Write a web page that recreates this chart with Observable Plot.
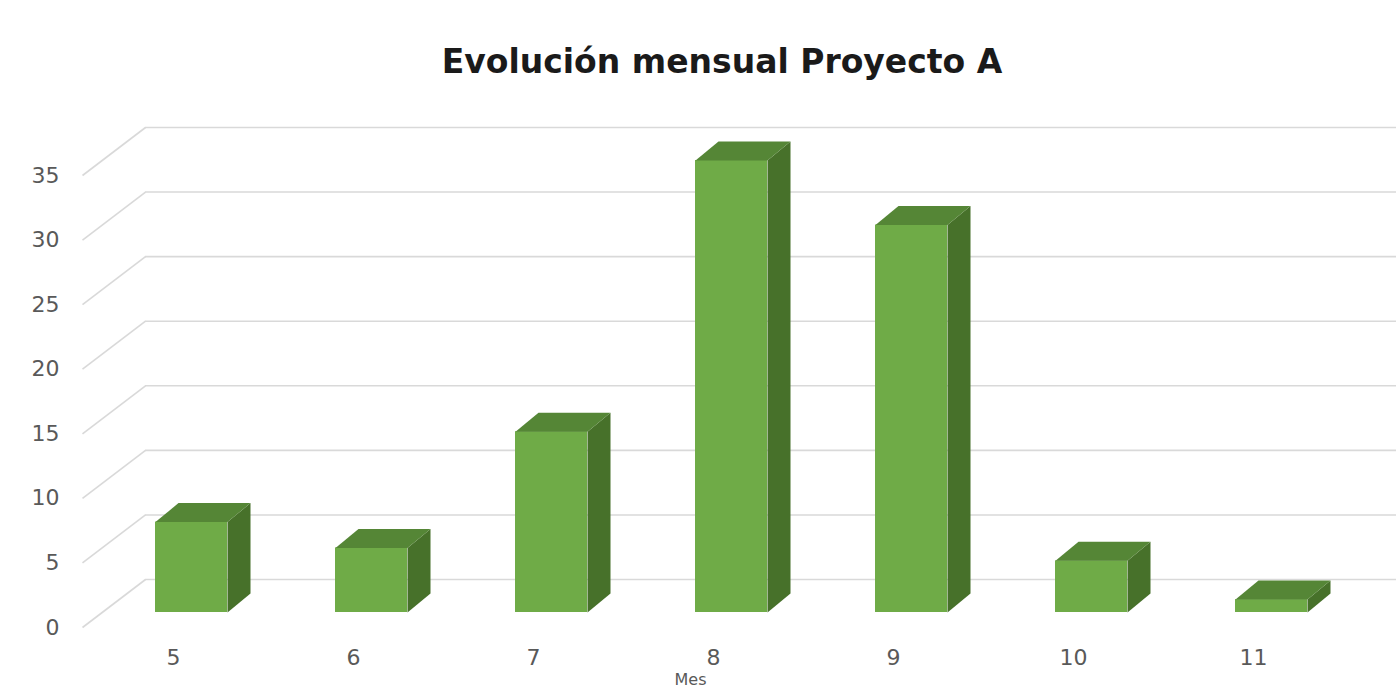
<!DOCTYPE html>
<html>
<head>
<meta charset="utf-8">
<script src="https://cdn.jsdelivr.net/npm/d3@7"></script>
<script src="https://cdn.jsdelivr.net/npm/@observablehq/plot@0.6"></script>
<style>
  html, body { margin: 0; padding: 0; background: #fff; overflow: hidden; }
  #title { height: 100px; width: 1396px; text-align: center; font-family: "DejaVu Sans", sans-serif; font-weight: bold; font-size: 33px; color: #1a1a1a; line-height: 1; box-sizing: border-box; padding-top: 45px; padding-left: 48px; }
  #chart svg { display: block; overflow: hidden; }
</style>
</head>
<body>
<div id="title">Evolución mensual Proyecto A</div>
<div id="chart"></div>
<script>
// ---- data ----
const months = [5, 6, 7, 8, 9, 10, 11];
const values = [7, 5, 14, 35, 30, 4, 1];
const yTicks = [0, 5, 10, 15, 20, 25, 30, 35];
const xAxisTitle = "Mes";

// ---- geometry (style) ----
const W = 1396, H = 590;
const xDomain = [5, 11], xRange = [191, 1271];
const yDomain = [0, 35], yRange = [512, 60];
const pxX = (xRange[1] - xRange[0]) / (xDomain[1] - xDomain[0]);
const pxY = (yRange[0] - yRange[1]) / (yDomain[1] - yDomain[0]);
const half = 36 / pxX;          // half bar width in x units
const depthX = 23 / pxX, depthY = 19 / pxY;   // bar depth
const wallX1 = xDomain[0] + (145 - xRange[0]) / pxX;
const frontX = xDomain[0] + (82 - xRange[0]) / pxX;
const rightX = xDomain[0] + (W - xRange[0]) / pxX;
const backDy = 33 / pxY, frontDy = 15 / pxY;

const bars = months.map((m, i) => ({month: m, value: values[i]}));
const tops = bars.flatMap((b, i) => [
  {id: i, x: b.month - half, y: b.value},
  {id: i, x: b.month + half, y: b.value},
  {id: i, x: b.month + half + depthX, y: b.value + depthY},
  {id: i, x: b.month - half + depthX, y: b.value + depthY},
  {id: i, x: b.month - half, y: b.value}
]);
const sides = bars.flatMap((b, i) => [
  {id: i, x: b.month + half, y: 0},
  {id: i, x: b.month + half, y: b.value},
  {id: i, x: b.month + half + depthX, y: b.value + depthY},
  {id: i, x: b.month + half + depthX, y: depthY},
  {id: i, x: b.month + half, y: 0}
]);

const font = "DejaVu Sans, sans-serif";
const chart = Plot.plot({
  width: W,
  height: H,
  margin: 0,
  x: {type: "linear", domain: xDomain, range: xRange, axis: null},
  y: {type: "linear", domain: yDomain, range: yRange, axis: null},
  style: {fontFamily: font, background: "#fff"},
  marks: [
    // back wall gridlines
    Plot.ruleY(yTicks, {y: d => d + backDy, x1: wallX1, x2: rightX, stroke: "#d9d9d9", strokeWidth: 1.6}),
    // left wall diagonals
    Plot.link(yTicks, {x1: frontX, y1: d => d - frontDy, x2: wallX1, y2: d => d + backDy, stroke: "#d9d9d9", strokeWidth: 1.6}),
    // y tick labels
    Plot.text(yTicks, {y: d => d - frontDy, frameAnchor: "left", dx: 59, textAnchor: "end", text: d => String(d), fill: "#595959", fontSize: 22}),
    // bars: front, side, top
    Plot.rect(bars, {x1: d => d.month - half, x2: d => d.month + half, y1: 0, y2: "value", fill: "#6fab47"}),
    Plot.line(sides, {x: "x", y: "y", z: "id", fill: "#47712a", stroke: "none"}),
    Plot.line(tops, {x: "x", y: "y", z: "id", fill: "#558636", stroke: "none"}),
    // x tick labels
    Plot.text(bars, {x: "month", y: 0, dx: -18, dy: 45, text: d => String(d.month), fill: "#595959", fontSize: 22}),
    // x axis title
    Plot.text([xAxisTitle], {x: xDomain[0] + (690 - xRange[0]) / pxX, y: 0, dy: 67, text: d => d, fill: "#595959", fontSize: 16})
  ]
});
document.getElementById("chart").appendChild(chart);
</script>
</body>
</html>
